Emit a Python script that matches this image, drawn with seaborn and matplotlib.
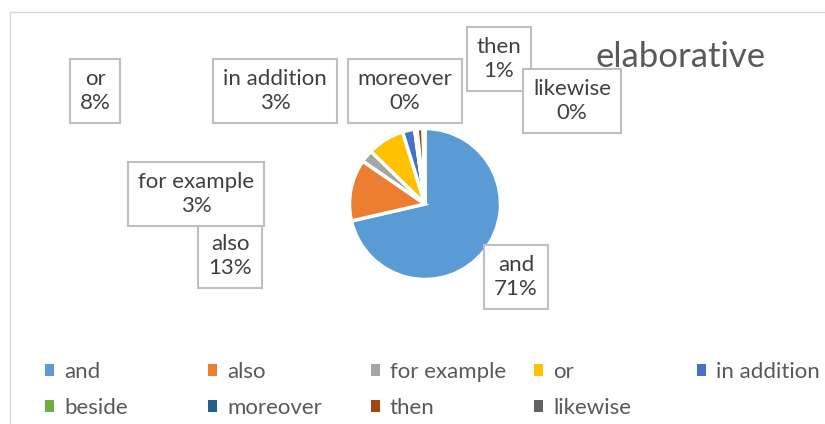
import matplotlib
matplotlib.use("Agg")
import matplotlib.pyplot as plt
import seaborn as sns
from matplotlib.patches import Rectangle, Patch

# connector words in the "elaborative" group (share of occurrences, %)
words = ['and', 'also', 'for example', 'or', 'in addition',
         'beside', 'moreover', 'then', 'likewise']
shares = [71.4, 13.2, 2.7, 7.9, 2.6, 0.1, 0.4, 1.3, 0.4]
colors = ['#5B9BD5', '#ED7D31', '#A5A5A5', '#FFC000', '#4472C4',
          '#70AD47', '#255E91', '#9E480E', '#636363']

# label box centres in pixels (x from left, y from top); beside has no label
label_pos = {
    'and': (516, 277),
    'also': (230, 256),
    'for example': (196, 194),
    'or': (95, 91),
    'in addition': (275, 91),
    'moreover': (405, 91),
    'then': (499, 59),
    'likewise': (572, 101),
}

W, H = 825, 424
sns.set_theme(style="white")
plt.rcParams['font.family'] = ['Lato', 'DejaVu Sans']

fig = plt.figure(figsize=(W / 100, H / 100), dpi=100)
fig.patch.set_facecolor('white')

# chart frame
fig.patches.append(Rectangle((10 / W, -0.1), 1.2, 1 - 12 / H + 0.1,
                             transform=fig.transFigure, fill=False,
                             edgecolor='#d9d9d9', linewidth=1))

cx, cy, r = 425, 204, 77
ax = fig.add_axes([(cx - r) / W, (H - cy - r) / H, 2 * r / W, 2 * r / H])
wedges, _ = ax.pie(shares, colors=colors, startangle=90, counterclock=False,
                   wedgeprops=dict(edgecolor='white', linewidth=2.5))
ax.set_xlim(-1.02, 1.02)
ax.set_ylim(-1.02, 1.02)
ax.axis('off')

total = sum(shares)
for w, s in zip(words, shares):
    if w not in label_pos:
        continue
    x, y = label_pos[w]
    fig.text(x / W, 1 - y / H, f"{w}\n{s / total * 100:.0f}%", ha='center', va='center',
             fontsize=16, color='#404040', linespacing=1.2,
             bbox=dict(boxstyle='square,pad=0.45', facecolor='white',
                       edgecolor='#bfbfbf', linewidth=1.5))

fig.text(681 / W, 1 - 57 / H, 'elaborative', ha='center', va='center',
         fontsize=25, color='#595959')

# legend: 5 evenly spaced columns, filled row by row
ncol = 5
for c in range(ncol):
    idx = [i for i in range(len(words)) if i % ncol == c]
    handles = [Patch(facecolor=colors[i], edgecolor='none') for i in idx]
    fig.legend(handles, [words[i] for i in idx], loc='upper left',
               bbox_to_anchor=((45 + 163 * c) / W, 1 - 362 / H), frameon=False,
               fontsize=16, labelcolor='#595959', handlelength=0.4, handleheight=0.4,
               handletextpad=0.45, labelspacing=0.72, borderaxespad=0, borderpad=0)

fig.savefig('out.png', dpi=100, facecolor='white')
